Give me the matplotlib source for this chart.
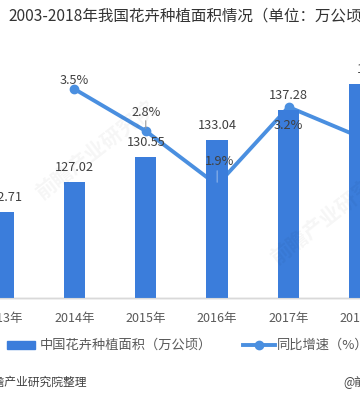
"""
2003-2018年我国花卉种植面积情况 — 柱状（面积）+ 折线（同比增速）。
"""
import matplotlib
matplotlib.use("Agg")
import matplotlib.pyplot as plt
import numpy as np

plt.rcParams["font.family"] = ["Noto Sans CJK SC", "DejaVu Sans"]

YEARS = ["2013年", "2014年", "2015年", "2016年", "2017年", "2018年"]
AREA = [122.71, 127.02, 130.55, 133.04, 137.28, 140.99]      # 万公顷
GROWTH = [None, 3.5, 2.8, 1.9, 3.2, 2.7]                     # %

BAR_COL = "#3b7ddb"
LINE_COL = "#4a8fe0"
TXT_COL = "#404040"

W, H = 360, 400
fig = plt.figure(figsize=(W / 100, H / 100), dpi=100)
ax = fig.add_axes([0, 102 / H, 1, 248 / H])
ax2 = ax.twinx()
# 柱子盖在折线之上（与原图一致）
ax.set_zorder(ax2.get_zorder() + 1)
ax.patch.set_visible(False)

x = np.arange(len(YEARS))
ax.bar(x, AREA, width=0.30, color=BAR_COL, zorder=2)
ax.set_xlim(-3 / 73, 357 / 73)
ax.set_ylim(110.4, 145.83)

lab_dx = [0, 0, 0, 0, 0, 16]
for xi, v, dx in zip(x, AREA, lab_dx):
    ax.annotate(f"{v:.2f}", xy=(xi, v), xytext=(dx, 14), textcoords="offset pixels",
                ha="center", va="center", fontsize=9.2, color=TXT_COL, zorder=5)

gx = [xi for xi, g in zip(x, GROWTH) if g is not None]
gy = [g for g in GROWTH if g is not None]
ax2.plot(gx, gy, color=LINE_COL, lw=2.8, marker="o", ms=6, zorder=4)
ax2.set_ylim(0.017, 4.15)

# 标签偏移（像素），画在柱子图层上
offs = [(0, 9), (0, 19), (2, 24), (0, -18), (30, 16)]
for (xi, g), (dx, dy) in zip(zip(gx, gy), offs):
    ax.annotate(f"{g:.1f}%", xy=(xi, g), xycoords=ax2.transData, xytext=(dx, dy),
                textcoords="offset pixels", ha="center", va="center",
                fontsize=9.2, color=TXT_COL, zorder=6)
# 引导线
ax.annotate("", xy=(2, 2.8), xycoords=ax2.transData, xytext=(0, 13),
            textcoords="offset pixels",
            arrowprops=dict(arrowstyle="-", color="#9a9a9a", lw=0.8))
ax.annotate("", xy=(3, 1.9), xycoords=ax2.transData, xytext=(0, 17),
            textcoords="offset pixels",
            arrowprops=dict(arrowstyle="-", color="#8fb4ea", lw=0.8))

for a in (ax, ax2):
    for s in ("left", "right", "top"):
        a.spines[s].set_visible(False)
    a.set_yticks([])
ax.spines["bottom"].set_color("#d9d9d9")
ax.set_xticks(x)
ax.set_xticklabels(YEARS, fontsize=9, color="#595959")
ax.tick_params(axis="x", length=0, pad=10)

# 标题
fig.text(8 / W, 1 - 16 / H, "2003-2018年我国花卉种植面积情况（单位：万公顷）",
         ha="left", va="center", fontsize=11.2, color="#333333")

# 图例
fig.patches.append(plt.Rectangle((7 / W, 1 - 349 / H), 28 / W, 8 / H,
                                 transform=fig.transFigure, color=BAR_COL))
fig.text(40 / W, 1 - 345 / H, "中国花卉种植面积（万公顷）", ha="left", va="center",
         fontsize=9.5, color="#595959")
fig.lines.append(plt.Line2D([243 / W, 259 / W, 275 / W], [1 - 345 / H] * 3,
                            transform=fig.transFigure, color=LINE_COL, lw=2.8,
                            marker="o", ms=6, markevery=[1]))
fig.text(277 / W, 1 - 345 / H, "同比增速（%）", ha="left", va="center",
         fontsize=9.5, color="#595959")

# 来源
fig.text(87 / W, 1 - 382 / H, "资料来源：前瞻产业研究院整理", ha="right", va="center",
         fontsize=8.5, color="#404040")
fig.text(343 / W, 1 - 382 / H, "@前瞻经济学人", ha="left", va="center",
         fontsize=8.5, color="#404040")

# 水印
for wx, wy in [(95, 150), (330, 215)]:
    fig.text(wx / W, 1 - wy / H, "前瞻产业研究院", ha="center", va="center", rotation=38,
             fontsize=15, color="#000000", alpha=0.04, fontweight="bold", zorder=10)

fig.savefig("out.png", dpi=100)
